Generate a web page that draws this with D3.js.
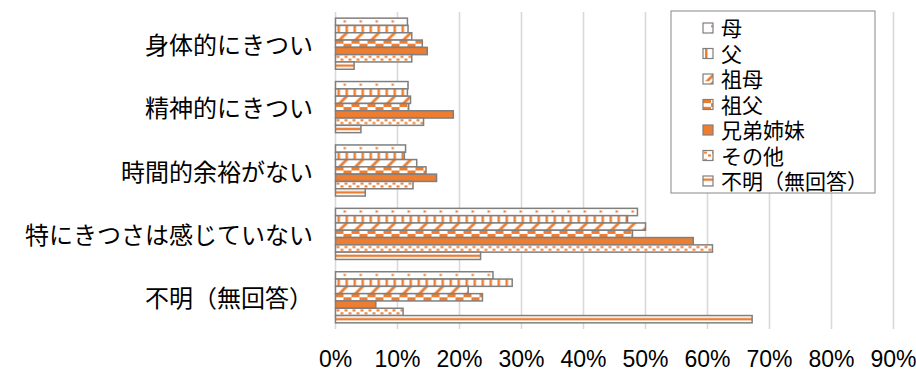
<!DOCTYPE html>
<meta charset="utf-8">
<style>
body{ margin:0; background:#fff; }
text{ fill:#000; }
.cat{ font-family:"Noto Sans CJK JP","Noto Sans CJK SC",sans-serif; font-size:24px; }
.tick-label{ font-family:"Liberation Sans Narrow","Liberation Sans",sans-serif; font-size:23px; }
.leg{ font-family:"Noto Sans CJK JP",sans-serif; font-size:21px; }
.grid line{ stroke:#d9d9d9; stroke-width:1.6px; }
.bar{ stroke:#7f7f7f; stroke-width:1.5px; }
</style>
<svg width="916" height="375"></svg>
<script src="https://cdnjs.cloudflare.com/ajax/libs/d3/7.8.5/d3.min.js"></script>
<script>

// categories (top to bottom)
var categories = ["身体的にきつい", "精神的にきつい", "時間的余裕がない", "特にきつさは感じていない", "不明（無回答）"];
var seriesNames = ["母", "父", "祖母", "祖父", "兄弟姉妹", "その他", "不明（無回答）"];

// percent values per series, same order as categories
var haha      = [11.6, 11.7, 11.3, 48.7, 25.4];
var chichi    = [11.7, 11.6, 11.1, 47.1, 28.5];
var sobo      = [12.3, 12.1, 13.1, 50.0, 21.4];
var sofu      = [14.0, 11.8, 14.6, 47.9, 23.7];
var kyodai    = [14.8, 19.0, 16.3, 57.7, 6.5];
var sonota    = [12.3, 14.2, 12.5, 60.8, 10.9];
var fumei     = [3.0, 4.1, 4.8, 23.4, 67.2];
var seriesValues = [haha, chichi, sobo, sofu, kyodai, sonota, fumei];

var tickValues = [0, 10, 20, 30, 40, 50, 60, 70, 80, 90];

var svg = d3.select("svg");
var orange = "#ed7d31";

var x = d3.scaleLinear().domain([0, 90]).range([335.5, 893.5]);
var y = d3.scaleBand().domain(categories).range([12, 329])
    .paddingInner(0.194).paddingOuter(0.097);
var yIn = d3.scaleBand().domain(seriesNames).range([0, y.bandwidth()]);
var h = yIn.bandwidth();

// fill patterns
var defs = svg.append("defs");
function pat(id, w, hh){
  var p = defs.append("pattern").attr("id", id)
    .attr("patternUnits", "userSpaceOnUse")
    .attr("width", w).attr("height", hh);
  p.append("rect").attr("width", w).attr("height", hh).attr("fill", "#fff");
  return p;
}
var p0 = pat("p0", 16, h);
p0.append("rect").attr("x", 8).attr("y", 2.2).attr("width", 2.5).attr("height", 2).attr("fill", orange);
var p1 = pat("p1", 8, h);
p1.append("rect").attr("x", 2).attr("y", 0).attr("width", 2.5).attr("height", h).attr("fill", orange);
var p2 = pat("p2", 16, h);
p2.append("polygon").attr("points", [[2, h], [6, h], [6 + h, 0], [2 + h, 0]].join(" ")).attr("fill", orange);
var p3 = pat("p3", 16, h);
p3.append("rect").attr("x", 0).attr("y", 0).attr("width", 8).attr("height", h / 2).attr("fill", orange);
p3.append("rect").attr("x", 8).attr("y", h / 2).attr("width", 8).attr("height", h / 2).attr("fill", orange);
var p5 = pat("p5", 16, h);
[[1, 1.2], [9, 1.2], [5, 4], [13, 4]].forEach(function(c){
  p5.append("rect").attr("x", c[0]).attr("y", c[1]).attr("width", 3).attr("height", 2).attr("fill", orange);
});
var p6 = pat("p6", 4, h);
p6.append("rect").attr("x", 0).attr("y", h / 2 - 1.2).attr("width", 4).attr("height", 2.4).attr("fill", orange);

var fills = ["url(#p0)", "url(#p1)", "url(#p2)", "url(#p3)", orange, "url(#p5)", "url(#p6)"];

// grid
svg.append("g").attr("class", "grid")
  .selectAll("line").data(tickValues).enter().append("line")
  .attr("x1", function(d){ return x(d); }).attr("x2", function(d){ return x(d); })
  .attr("y1", 12).attr("y2", 329);

// bars
var groups = svg.selectAll(".grp").data(categories).enter().append("g")
  .attr("class", "grp")
  .attr("transform", function(d){ return "translate(0," + y(d) + ")"; });

groups.each(function(cat, ci){
  var g = d3.select(this);
  seriesNames.forEach(function(s, si){
    var v = seriesValues[si][ci];
    g.append("rect").attr("class", "bar")
      .attr("transform", "translate(" + x(0) + "," + yIn(s) + ")")
      .attr("width", x(v) - x(0)).attr("height", h)
      .attr("fill", fills[si]);
  });
});

// category labels
svg.selectAll(".cat").data(categories).enter().append("text")
  .attr("class", "cat")
  .attr("x", 313)
  .attr("y", function(d){ return y(d) + y.bandwidth() / 2 + 10; })
  .attr("text-anchor", "end")
  .text(function(d){ return d; });

// x tick labels
svg.selectAll(".tick-label").data(tickValues).enter().append("text")
  .attr("class", "tick-label")
  .attr("x", function(d){ return x(d); })
  .attr("y", 367)
  .attr("text-anchor", "middle")
  .text(function(d){ return d + "%"; });

// legend
var leg = svg.append("g");
leg.append("rect").attr("x", 671).attr("y", 11).attr("width", 204).attr("height", 182)
  .attr("fill", "#fff").attr("stroke", "#888").attr("stroke-width", 1);
var items = leg.selectAll(".li").data(seriesNames).enter().append("g")
  .attr("transform", function(d, i){ return "translate(703," + (28 + 25.5 * i) + ")"; });
items.append("g").attr("transform", "translate(0,-5)")
  .append("rect").attr("width", 10).attr("height", 10)
  .attr("fill", function(d, i){ return fills[i]; })
  .attr("stroke", "#7f7f7f").attr("stroke-width", 1.2);
items.append("text").attr("class", "leg")
  .attr("x", 18).attr("y", 8)
  .text(function(d){ return d; });

</script>
